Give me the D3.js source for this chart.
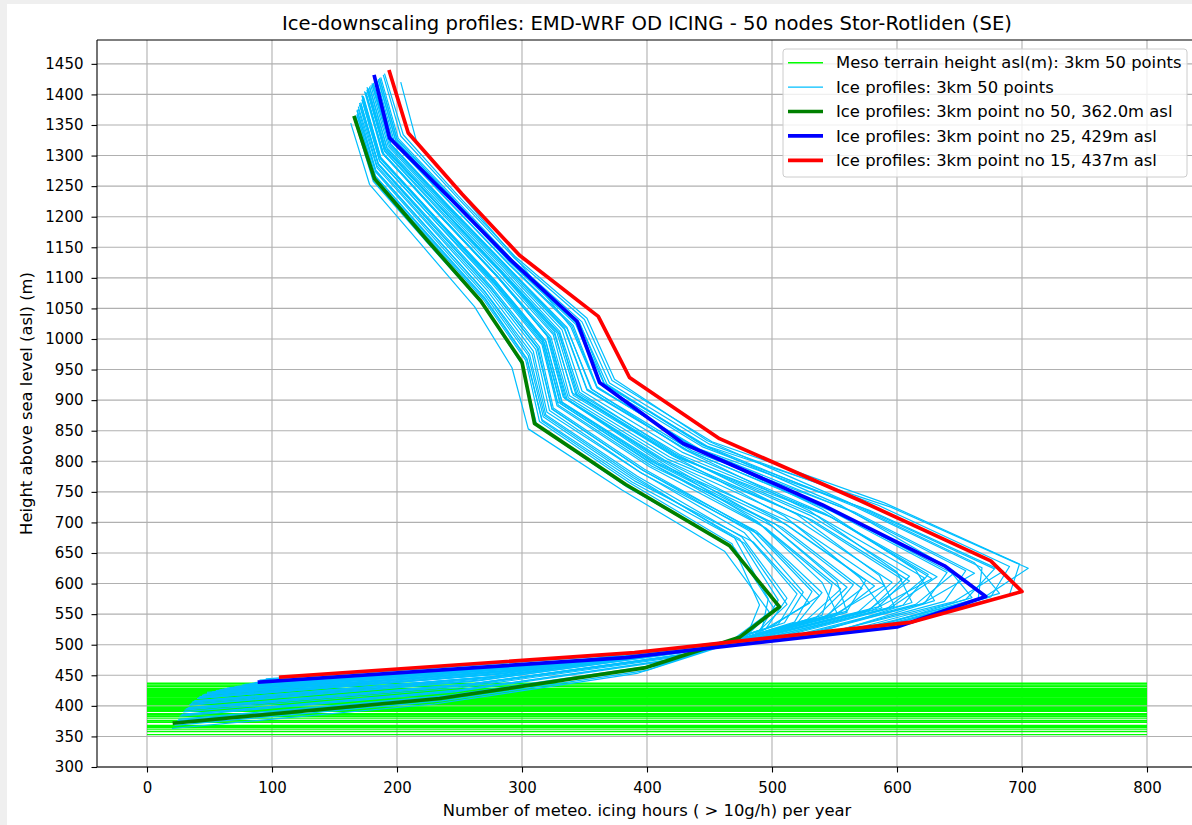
<!DOCTYPE html>
<html>
<head>
<meta charset="utf-8">
<script src="https://cdn.jsdelivr.net/npm/d3@7/dist/d3.min.js"></script>
<style>
    body { margin: 0; background: #efefef; }
    svg { display: block; font-family: "DejaVu Sans", sans-serif; }
</style>
</head>
<body>
<svg id="chart" width="1192" height="825"></svg>
<script>
// heights above terrain (m) at which every ice profile has a value
const levels = [10, 50, 100, 150, 200, 300, 400, 500, 600, 700, 800, 900, 1000];

// meso terrain height asl (m), point 1..50
const terrain = [
    412, 418, 405, 398, 421, 426, 409, 394, 415, 432,
    402, 387, 424, 434, 437, 419, 407, 396, 383, 413,
    428, 402, 391, 375, 429, 416, 404, 385, 366, 422,
    410, 398, 380, 365, 427, 417, 403, 392, 373, 358,
    425, 411, 397, 386, 368, 353, 420, 408, 376, 362
];

// meteo icing hours per year for each level, point 1..50
const iceHours = [
    [48, 300, 488, 585, 610, 530, 420, 340, 326, 282, 236, 190, 176],
    [62, 330, 530, 622, 640, 548, 432, 352, 334, 288, 240, 195, 180],
    [42, 285, 470, 560, 575, 505, 410, 333, 320, 279, 233, 188, 174],
    [38, 275, 455, 540, 548, 490, 402, 328, 316, 276, 230, 186, 172],
    [70, 345, 548, 638, 655, 560, 440, 360, 340, 290, 243, 197, 183],
    [82, 360, 575, 665, 668, 566, 446, 368, 346, 292, 246, 200, 186],
    [46, 298, 490, 592, 622, 538, 424, 344, 330, 284, 238, 191, 177],
    [35, 268, 448, 535, 560, 500, 406, 331, 318, 277, 232, 187, 173],
    [55, 318, 512, 605, 625, 542, 428, 348, 332, 286, 239, 193, 179],
    [90, 372, 592, 690, 698, 590, 452, 372, 350, 294, 248, 203, 189],
    [40, 282, 468, 568, 596, 522, 414, 336, 322, 280, 234, 189, 175],
    [33, 262, 438, 518, 532, 485, 398, 325, 314, 275, 230, 185, 171],
    [76, 352, 562, 655, 678, 572, 444, 364, 343, 291, 245, 199, 185],
    [95, 378, 598, 682, 662, 560, 448, 374, 352, 295, 249, 205, 190],
    [107, 390, 612, 700, 675, 569, 458, 386, 361, 298, 252, 209, 194],
    [64, 334, 535, 612, 600, 530, 430, 355, 336, 288, 241, 195, 181],
    [44, 292, 480, 578, 604, 528, 418, 338, 325, 281, 235, 190, 176],
    [36, 272, 452, 550, 582, 512, 408, 332, 319, 278, 232, 187, 173],
    [30, 255, 430, 505, 520, 478, 394, 322, 311, 273, 228, 184, 170],
    [52, 310, 505, 598, 586, 520, 422, 346, 330, 285, 238, 192, 178],
    [86, 365, 582, 675, 690, 585, 450, 370, 348, 293, 247, 201, 187],
    [40, 280, 462, 552, 540, 488, 408, 335, 322, 280, 234, 189, 175],
    [34, 265, 442, 528, 555, 495, 402, 328, 316, 276, 231, 186, 172],
    [27, 248, 418, 492, 497, 470, 390, 318, 306, 271, 227, 183, 168],
    [90, 383, 600, 671, 638, 540, 429, 362, 344, 291, 243, 194, 182],
    [58, 322, 520, 615, 645, 552, 434, 352, 334, 287, 240, 194, 180],
    [42, 288, 474, 575, 610, 532, 416, 337, 323, 280, 234, 189, 175],
    [31, 258, 434, 520, 540, 488, 397, 324, 313, 274, 229, 185, 171],
    [25, 243, 410, 486, 512, 478, 388, 316, 304, 270, 226, 183, 168],
    [72, 348, 552, 630, 615, 540, 438, 360, 341, 290, 243, 198, 184],
    [48, 302, 494, 588, 570, 510, 420, 343, 328, 283, 237, 191, 177],
    [38, 278, 458, 545, 565, 502, 405, 330, 317, 277, 231, 186, 172],
    [29, 252, 425, 500, 538, 490, 396, 320, 309, 272, 228, 184, 169],
    [24, 240, 405, 480, 490, 468, 386, 314, 303, 269, 225, 182, 167],
    [84, 362, 578, 660, 640, 556, 444, 366, 346, 292, 246, 200, 186],
    [60, 326, 525, 620, 662, 566, 436, 356, 336, 288, 241, 195, 181],
    [41, 286, 472, 560, 552, 495, 410, 334, 321, 280, 234, 189, 175],
    [34, 266, 445, 540, 572, 508, 404, 329, 317, 277, 231, 186, 172],
    [26, 246, 415, 490, 505, 474, 389, 317, 305, 270, 226, 183, 168],
    [22, 236, 400, 476, 502, 470, 384, 312, 300, 268, 224, 181, 166],
    [78, 355, 568, 668, 705, 595, 448, 366, 344, 291, 245, 199, 185],
    [50, 306, 500, 595, 632, 545, 426, 345, 329, 284, 237, 192, 178],
    [37, 274, 455, 548, 590, 518, 409, 332, 319, 278, 232, 187, 173],
    [32, 260, 436, 510, 525, 482, 396, 324, 312, 274, 229, 185, 170],
    [25, 244, 412, 488, 530, 485, 390, 316, 304, 270, 226, 182, 168],
    [20, 230, 392, 465, 498, 462, 380, 305, 292, 262, 220, 178, 163],
    [66, 340, 545, 645, 685, 578, 442, 360, 339, 300, 258, 216, 203],
    [45, 295, 485, 582, 628, 548, 422, 341, 326, 283, 236, 190, 176],
    [28, 250, 420, 495, 512, 476, 392, 319, 308, 271, 227, 183, 169],
    [22, 234, 398, 474, 506, 466, 383, 310, 300, 267, 224, 182, 166]
];

// the three points drawn on top (point no, colour, legend text)
const highlightNo = [50, 25, 15];
const highlightColor = ['green', 'blue', 'red'];
const highlightLabel = [
    'Ice profiles: 3km point no 50, 362.0m asl',
    'Ice profiles: 3km point no 25, 429m asl',
    'Ice profiles: 3km point no 15, 437m asl'
];

const xTicks = [0, 100, 200, 300, 400, 500, 600, 700, 800];
const yTicks = [300, 350, 400, 450, 500, 550, 600, 650, 700, 750, 800, 850, 900,
    950, 1000, 1050, 1100, 1150, 1200, 1250, 1300, 1350, 1400, 1450];
const terrainSpan = [0, 800];

const svg = d3.select('#chart');
const box = { left: 97, top: 40, right: 1197, bottom: 767 };

const x = d3.scaleLinear().domain([-40, 840]).range([box.left, box.right]);
const y = d3.scaleLinear().domain([300, 1489]).range([box.bottom, box.top]);

// white figure area (the reference is a window screenshot with a grey rim)
svg.append('rect')
    .attr('x', 7).attr('y', 4)
    .attr('width', 1192).attr('height', 825)
    .attr('fill', 'white');

svg.append('clipPath').attr('id', 'clip')
    .append('rect')
    .attr('x', box.left).attr('y', box.top)
    .attr('width', box.right - box.left).attr('height', box.bottom - box.top);

// grid
const grid = svg.append('g').attr('stroke', '#b0b0b0').attr('stroke-width', 1.1);
grid.selectAll('.gx').data(xTicks).enter().append('line')
    .attr('x1', d => x(d)).attr('x2', d => x(d))
    .attr('y1', box.top).attr('y2', box.bottom);
grid.selectAll('.gy').data(yTicks).enter().append('line')
    .attr('x1', box.left).attr('x2', box.right)
    .attr('y1', d => y(d)).attr('y2', d => y(d));

const plot = svg.append('g').attr('clip-path', 'url(#clip)');

// terrain heights as horizontal lines
plot.append('g').selectAll('line')
    .data(terrain)
    .enter()
    .append('line')
    .attr('x1', x(terrainSpan[0])).attr('x2', x(terrainSpan[1]))
    .attr('y1', d => y(d)).attr('y2', d => y(d))
    .attr('stroke', '#00ff00')
    .attr('stroke-width', 1.4);

const line = d3.line()
    .x(d => x(d[0]))
    .y(d => y(d[1]));

function profile(i) {
    return iceHours[i].map((v, k) => [v, terrain[i] + levels[k]]);
}

plot.append('g').selectAll('path')
    .data(d3.range(terrain.length))
    .enter()
    .append('path')
    .attr('d', i => line(profile(i)))
    .attr('fill', 'none')
    .attr('stroke', '#00bfff')
    .attr('stroke-width', 1.2)
    .attr('stroke-linejoin', 'round');

plot.append('g').selectAll('path')
    .data(highlightNo)
    .enter()
    .append('path')
    .attr('d', no => line(profile(no - 1)))
    .attr('fill', 'none')
    .attr('stroke', (no, i) => highlightColor[i])
    .attr('stroke-width', 3.7)
    .attr('stroke-linecap', 'square')
    .attr('stroke-linejoin', 'round');

// axes
const xAxis = svg.append('g')
    .attr('transform', `translate(0,${box.bottom})`)
    .call(d3.axisBottom(x).tickValues(xTicks).tickFormat(d3.format('d'))
        .tickSize(5.5).tickPadding(9.5).tickSizeOuter(0));
const yAxis = svg.append('g')
    .attr('transform', `translate(${box.left},0)`)
    .call(d3.axisLeft(y).tickValues(yTicks).tickFormat(d3.format('d'))
        .tickSize(5.5).tickPadding(8).tickSizeOuter(0));

[xAxis, yAxis].forEach(a => {
    a.select('.domain').remove();
    a.selectAll('line').attr('stroke', '#000').attr('stroke-width', 1.1);
    a.selectAll('text').attr('font-size', '15px').attr('fill', '#000')
        .attr('font-family', '"DejaVu Sans", sans-serif');
});

// spines
svg.append('g').attr('stroke', '#000').attr('stroke-width', 1.1)
    .selectAll('line')
    .data([[box.left, box.top, box.right, box.top],
           [box.left, box.bottom, box.right, box.bottom],
           [box.left, box.top, box.left, box.bottom],
           [box.right, box.top, box.right, box.bottom]])
    .enter().append('line')
    .attr('x1', d => d[0]).attr('y1', d => d[1])
    .attr('x2', d => d[2]).attr('y2', d => d[3]);

// titles
svg.append('text')
    .attr('x', (box.left + box.right) / 2).attr('y', 30)
    .attr('text-anchor', 'middle').attr('font-size', '19.6px')
    .text('Ice-downscaling profiles: EMD-WRF OD ICING - 50 nodes Stor-Rotliden (SE)');
svg.append('text')
    .attr('x', (box.left + box.right) / 2).attr('y', 816)
    .attr('text-anchor', 'middle').attr('font-size', '16.4px')
    .text('Number of meteo. icing hours ( > 10g/h) per year');
svg.append('text')
    .attr('transform', `translate(32,${(box.top + box.bottom) / 2}) rotate(-90)`)
    .attr('text-anchor', 'middle').attr('font-size', '16.4px')
    .text('Height above sea level (asl) (m)');

// legend
const legendItems = [
    { label: 'Meso terrain height asl(m): 3km 50 points', color: '#00ff00', width: 1.4 },
    { label: 'Ice profiles: 3km 50 points', color: '#00bfff', width: 1.2 }
].concat(highlightLabel.map((l, i) => ({ label: l, color: highlightColor[i], width: 3.7 })));

const legend = svg.append('g');
legend.append('rect')
    .attr('x', 783).attr('y', 49)
    .attr('width', 404).attr('height', 128)
    .attr('rx', 3)
    .attr('fill', 'white').attr('fill-opacity', 0.8)
    .attr('stroke', '#cccccc');

const entry = legend.selectAll('.entry')
    .data(legendItems)
    .enter().append('g')
    .attr('transform', (d, i) => `translate(0,${62.7 + i * 24.4})`);
entry.append('line')
    .attr('x1', 788).attr('x2', 823)
    .attr('stroke', d => d.color)
    .attr('stroke-width', d => d.width);
entry.append('text')
    .attr('x', 836).attr('dy', '0.35em')
    .attr('font-size', '16.4px')
    .text(d => d.label);
</script>
</body>
</html>
